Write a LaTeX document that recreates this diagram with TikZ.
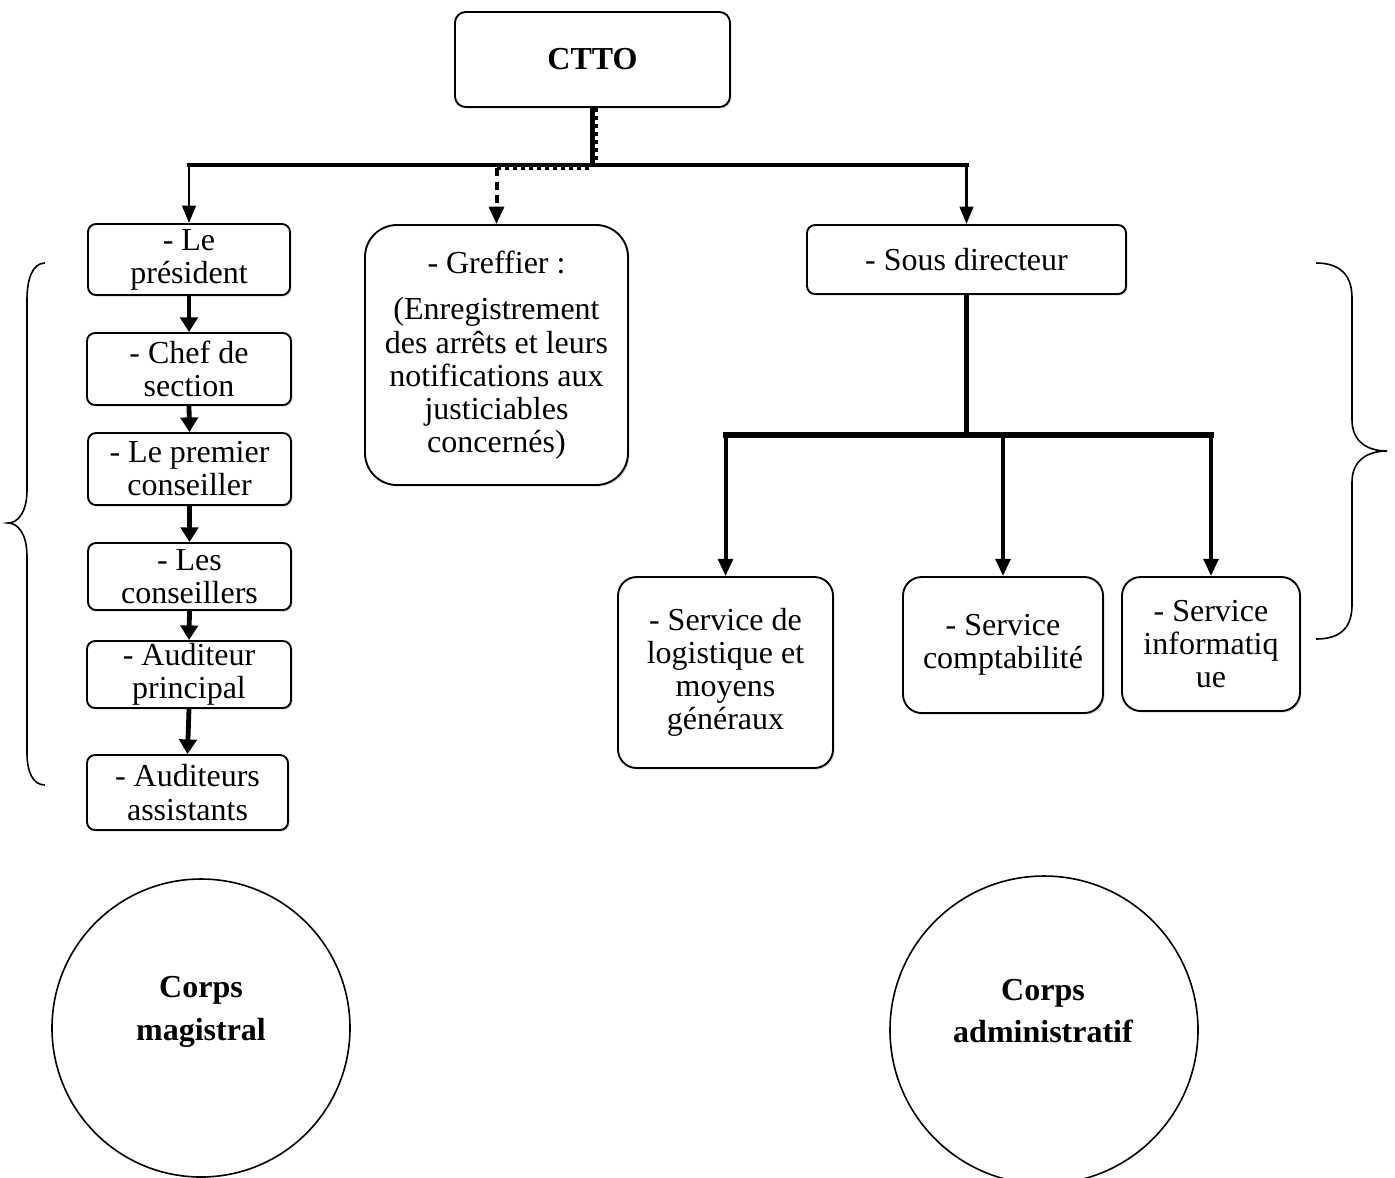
\documentclass[tikz,border=0pt]{standalone}
\usepackage{fontspec}
\setmainfont{Liberation Serif}
\usepackage{tikz}
\usetikzlibrary{
  arrows.meta,
  shadows
}
\newcommand\pxu{0.375pt}

\begin{document}
\begin{tikzpicture}[
          x=\pxu, y=-\pxu,
          box/.style 2 args={
              draw, line width=0.7pt, rounded corners=3pt,
              minimum width=#1*\pxu, minimum height=#2*\pxu,
              inner sep=0pt, align=center, fill=white,
              font=\fontsize{12}{12.4}\selectfont,
              drop shadow={shadow xshift=0.6pt, shadow yshift=-0.6pt, opacity=0.3}
            },
          bigbox/.style={rounded corners=12pt},
          midbox/.style={rounded corners=7pt},
          ring/.style={
              draw, circle, line width=0.6pt, inner sep=0pt,
              minimum size=#1*\pxu
            },
          ringtext/.style={
              align=center, inner sep=0pt,
              font=\bfseries\fontsize{12}{16}\selectfont
            },
          trunk/.style={line width=1.9pt},
          bar/.style={line width=1.5pt, line cap=rect},
          toparrow/.style={line width=1.1pt, -{Triangle[length=6.5pt, width=5pt]}},
          dasharrow/.style={line width=1.5pt, dash pattern=on 3pt off 2pt,
              -{Triangle[length=6.5pt, width=5.5pt]}},
          dotline/.style={line width=1.1pt, dash pattern=on 1.5pt off 1.5pt},
          chain/.style={line width=1.8pt, -{Triangle[length=5.5pt, width=6.5pt]}},
          subarrow/.style={line width=1.5pt, -{Triangle[length=6.5pt, width=5.5pt]}},
          brace/.style={line width=0.6pt}
        ]
        \useasboundingbox (0,0) rectangle (1395,1177);

        % top box
        \node[box={275}{95}, rounded corners=4pt, font=\bfseries\fontsize{12}{12.4}\selectfont]
          (ctto) at (592.5,59.5) {CTTO};

        % magistrates column
        \node[box={202}{71}] (president) at (189,259.5) {- Le\\président};
        \node[box={204}{72}] (chef) at (189,369) {- Chef de\\section};
        \node[box={203}{72}] (premier) at (189.5,469) {- Le premier\\conseiller};
        \node[box={203}{67}] (conseillers) at (189.5,576.5) {- Les\\conseillers};
        \node[box={204}{67}] (principal) at (189,674.5) {- Auditeur\\principal};
        \node[box={201}{75}] (assistants) at (187.5,792.5) {- Auditeurs\\assistants};

        % greffier
        \node[box={263}{260}, bigbox] (greffier) at (496.5,355)
          {- Greffier :\\[5pt](Enregistrement\\des arrêts et leurs\\notifications aux\\justiciables\\concernés)};

        % administrative side
        \node[box={319}{69}] (sous) at (966.5,259.5) {- Sous directeur};
        \node[box={215}{191}, midbox] (logistique) at (725.5,672.5)
          {- Service de\\logistique et\\moyens\\généraux};
        \node[box={200}{136}, midbox] (comptabilite) at (1003,645)
          {- Service\\comptabilité};
        \node[box={178}{134}, midbox] (informatique) at (1211,644)
          {- Service\\informatiq\\ue};

        % connectors from CTTO
        \coordinate (junction) at (592.5,165);
        \coordinate (pjoin) at (president.north |- junction);
        \coordinate (gjoin) at (greffier.north |- junction);
        \coordinate (sjoin) at (sous.north |- junction);
        \draw[trunk] (ctto.south) -- (junction);
        \draw[dotline] ([xshift=1.6pt]ctto.south) -- ([xshift=1.6pt]junction);
        \draw[bar] (pjoin) -- (sjoin);
        \draw[toparrow] (pjoin) -- (president.north);
        \draw[toparrow] (sjoin) -- (sous.north);
        \draw[dotline] ([yshift=-1.2pt]gjoin) -- ([yshift=-1.2pt]junction);
        \draw[dasharrow] ([yshift=-1.2pt]gjoin) -- (greffier.north);

        % chain of magistrates
        \draw[chain] (president.south) -- (chef.north);
        \draw[chain] (chef.south) -- (premier.north);
        \draw[chain] (premier.south) -- (conseillers.north);
        \draw[chain] (conseillers.south) -- (principal.north);
        \draw[chain] (principal.south) -- (assistants.north);

        % services under the sous directeur
        \coordinate (split) at (966.5,435);
        \coordinate (ljoin) at (logistique.north |- split);
        \coordinate (ijoin) at (informatique.north |- split);
        \draw[trunk, line width=2.2pt] (sous.south) -- (split);
        \draw[bar, line width=1.9pt] (ljoin) -- (ijoin);
        \draw[subarrow] (ljoin) -- (logistique.north);
        \draw[subarrow] (comptabilite.north |- split) -- (comptabilite.north);
        \draw[subarrow] (ijoin) -- (informatique.north);

        % braces
        \draw[brace] (45,263) .. controls (32,263) and (27,280) .. (27,300)
          -- (27,490) .. controls (27,512) and (18,523) .. (8,523)
          .. controls (18,523) and (27,534) .. (27,556)
          -- (27,753) .. controls (27,772) and (33,785) .. (45,785);
        \draw[brace] (1316,263) .. controls (1340,263) and (1352,275) .. (1352,298)
          -- (1352,420) .. controls (1352,442) and (1368,451) .. (1387,451)
          .. controls (1368,451) and (1352,460) .. (1352,482)
          -- (1352,605) .. controls (1352,628) and (1340,639) .. (1316,639);

        % bodies
        \node[ring=298] (magistral) at (201,1028) {};
        \node[ringtext] at (201,1012) {Corps\\magistral};
        \node[ring=308] (administratif) at (1044,1030) {};
        \node[ringtext] at (1043,1011) {Corps\\administratif};

      \end{tikzpicture}
\end{document}
